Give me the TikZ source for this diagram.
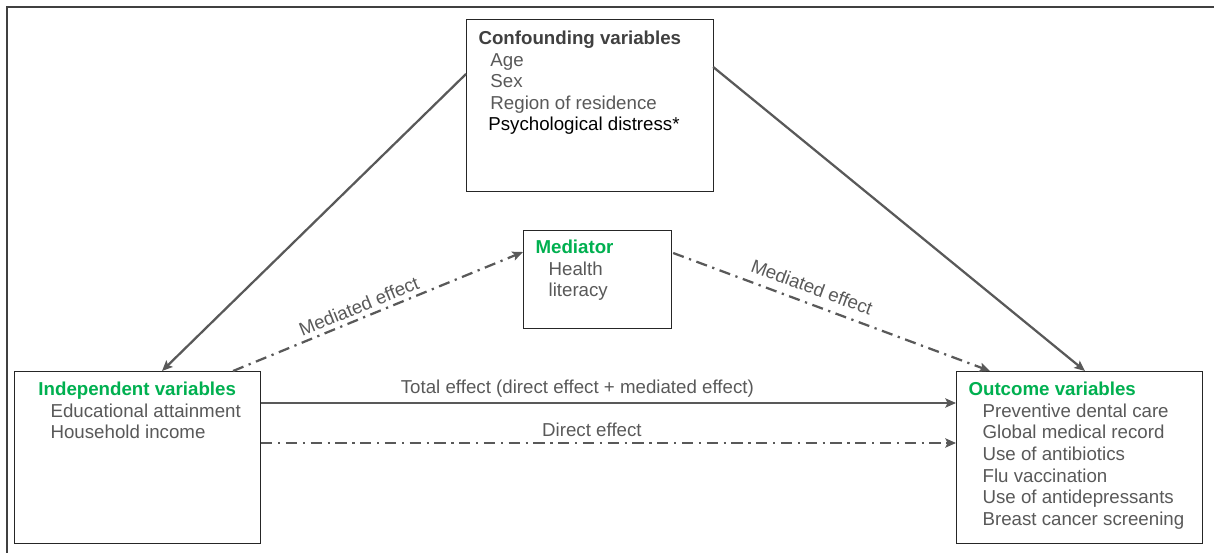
\documentclass[tikz,border=0pt]{standalone}
\usepackage{fontspec}
\setmainfont{Liberation Sans}
\usepackage{xcolor}
\usetikzlibrary{arrows.meta}
\definecolor{hdgreen}{HTML}{00B050}
\definecolor{txtgray}{HTML}{595959}
\definecolor{hdgray}{HTML}{404040}
\definecolor{lngray}{HTML}{595959}
\newcommand{\boxtxt}[4]{\parbox[t][#2][t]{#1}{\vspace*{#3}#4}}

\begin{document}
\begin{tikzpicture}[x=0.025cm,y=-0.025cm,>={Stealth[length=7.5pt,width=6.5pt,inset=1.5pt]},font=\fontsize{13.3}{15.4}\selectfont]
    \tikzset{
      box/.style={draw=black!85,line width=0.8pt,fill=white,anchor=north west,inner sep=0pt},
      ar/.style={->,draw=lngray,line width=1.6pt},
      dd/.style={ar,dash pattern=on 8pt off 4pt on 1.6pt off 4pt},
      lbl/.style={text=txtgray,inner sep=1pt}}
    \useasboundingbox (0,0) rectangle (1214,553);
    \draw[hdgray,line width=1.4pt] (1214,7) -- (7,7) -- (7,553);
    \node[box] (conf) at (466,19) {\boxtxt{6.175cm}{4.3cm}{8pt}{\hspace*{8.5pt}\textcolor{hdgray}{\textbf{Confounding variables}}\\\hspace*{17pt}\textcolor{txtgray}{Age}\\\hspace*{17pt}\textcolor{txtgray}{Sex}\\\hspace*{17pt}\textcolor{txtgray}{Region of residence}\\\hspace*{15.5pt}Psychological distress*}};
    \node[box] (med) at (523,230) {\boxtxt{3.7cm}{2.45cm}{6.7pt}{\hspace*{8.5pt}\textcolor{hdgreen}{\textbf{Mediator}}\\\hspace*{17.8pt}\textcolor{txtgray}{Health}\\\hspace*{17.8pt}\textcolor{txtgray}{literacy}}};
    \node[box] (indep) at (14,371) {\boxtxt{6.15cm}{4.3cm}{7.5pt}{\hspace*{17pt}\textcolor{hdgreen}{\textbf{Independent variables}}\\\hspace*{25.6pt}\textcolor{txtgray}{Educational attainment}\\\hspace*{25.6pt}\textcolor{txtgray}{Household income}}};
    \node[box] (outc) at (956,371) {\boxtxt{6.15cm}{4.3cm}{7.5pt}{\hspace*{8.5pt}\textcolor{hdgreen}{\textbf{Outcome variables}}\\\hspace*{18.5pt}\textcolor{txtgray}{Preventive dental care}\\\hspace*{18.5pt}\textcolor{txtgray}{Global medical record}\\\hspace*{18.5pt}\textcolor{txtgray}{Use of antibiotics}\\\hspace*{18.5pt}\textcolor{txtgray}{Flu vaccination}\\\hspace*{18.5pt}\textcolor{txtgray}{Use of antidepressants}\\\hspace*{18.5pt}\textcolor{txtgray}{Breast cancer screening}}};
    \draw[ar] ([shift={(0,55)}]conf.north west) -- ([shift={(148,0)}]indep.north west);
    \draw[ar] ([shift={(-1,48)}]conf.north east) -- ([shift={(129,0)}]outc.north west);
    \draw[dd] ([shift={(219,0)}]indep.north west) -- node[lbl,pos=0.45,sloped,above=2pt] (lmed) {Mediated effect} ([shift={(0,22)}]med.north west);
    \draw[dd] ([shift={(1,23)}]med.north east) -- node[lbl,pos=0.42,sloped,above=5pt] (rmed) {Mediated effect} ([shift={(34,0)}]outc.north west);
    \draw[ar] ([shift={(0,32)}]indep.north east) -- node[lbl,pos=0.455,above=2pt] (ltot) {Total effect (direct effect + mediated effect)} ([shift={(0,32)}]outc.north west);
    \draw[dd] ([shift={(0,72)}]indep.north east) -- node[lbl,pos=0.476,above=3pt] (ldir) {Direct effect} ([shift={(0,72)}]outc.north west);
\end{tikzpicture}
\end{document}
